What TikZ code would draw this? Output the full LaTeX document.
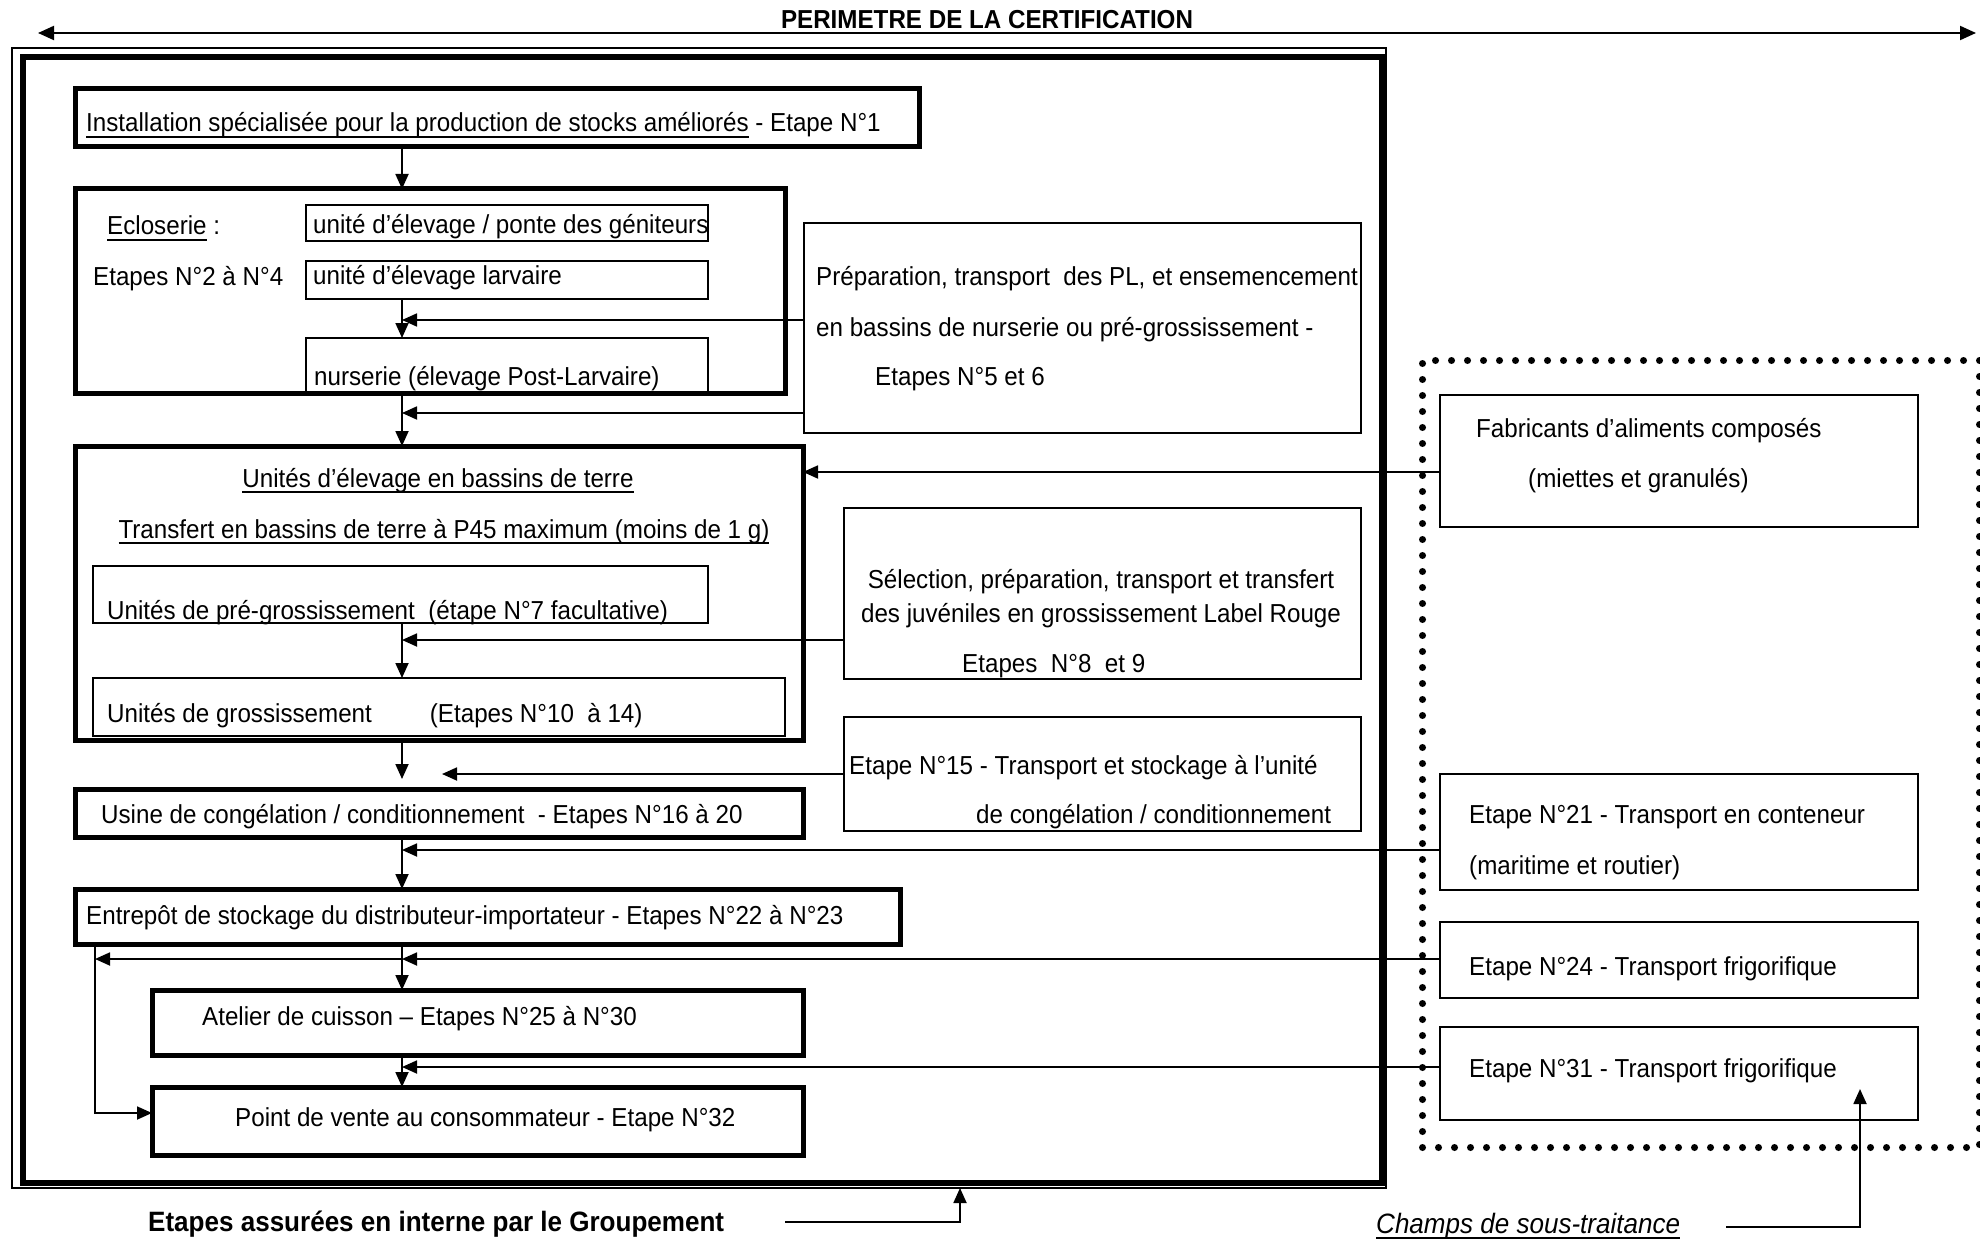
\documentclass[tikz,border=0pt]{standalone}
\usepackage{fontspec}
\setmainfont{Liberation Sans}[FakeStretch=0.93]
\usetikzlibrary{arrows.meta}
\newcommand{\uln}[1]{\setbox0\hbox{#1}\rlap{\rule[-6pt]{\wd0}{2pt}}\box0\relax}

\begin{document}
\begin{tikzpicture}[x=1pt, y=-1pt,
  thickbox/.style={draw, line width=5pt, anchor=north west, inner sep=0pt, outer sep=0pt},
  thinbox/.style={draw, line width=2pt, anchor=north west, inner sep=0pt, outer sep=0pt},
  txt/.style={anchor=base west, inner sep=0pt, font=\fontsize{26}{31}\selectfont},
  arr/.style={line width=1.8pt, -{Triangle[length=15pt, width=13pt]}},
  ln/.style={line width=1.8pt}]
\useasboundingbox (0,0) rectangle (1980,1241);

% perimetre
\coordinate (t1) at (38,33);
\coordinate (t2) at (1976,33);
\draw[line width=2pt, {Triangle[length=16pt, width=14pt]}-{Triangle[length=16pt, width=14pt]}] (t1) -- (t2);
\node[txt, anchor=base, font=\bfseries\fontsize{26}{31}\selectfont] (title) at (987,29) {PERIMETRE DE LA CERTIFICATION};

% cadre du groupement
\node[thinbox, minimum width=1374pt, minimum height=1140pt] (grp) at (12,48) {};
\node[draw, line width=6pt, anchor=north west, inner sep=0pt, minimum width=1359pt, minimum height=1126pt] (grpin) at (20,54) {};

% champs de sous-traitance
\node[draw, line width=7pt, line cap=round, dash pattern=on 0pt off 16pt, anchor=north west, inner sep=0pt, minimum width=557pt, minimum height=787pt] (sst) at (1419,357) {};

% boites internes
\node[thickbox, minimum width=844pt, minimum height=58pt] (inst) at (75,89) {};
\node[thinbox, minimum width=402pt, minimum height=36pt] (ponte) at (306,205) {};
\node[thinbox, minimum width=402pt, minimum height=38pt] (larv) at (306,261) {};
\node[thinbox, minimum width=402pt, minimum height=55pt] (nurs) at (306,338) {};
\node[thickbox, minimum width=710pt, minimum height=204pt] (ecl) at (75,189) {};
\node[thinbox, minimum width=557pt, minimum height=210pt] (prep) at (804,223) {};
\node[thinbox, minimum width=615pt, minimum height=57pt] (pre) at (93,566) {};
\node[thinbox, minimum width=692pt, minimum height=58pt] (gros) at (93,678) {};
\node[thickbox, minimum width=728pt, minimum height=294pt] (unit) at (75,446) {};
\node[thinbox, minimum width=517pt, minimum height=171pt] (sel) at (844,508) {};
\node[thinbox, minimum width=517pt, minimum height=114pt] (e15) at (844,717) {};
\node[thickbox, minimum width=728pt, minimum height=48pt] (usine) at (75,789) {};
\node[thickbox, minimum width=825pt, minimum height=55pt] (entre) at (75,889) {};
\node[thickbox, minimum width=651pt, minimum height=65pt] (atel) at (152,990) {};
\node[thickbox, minimum width=651pt, minimum height=68pt] (point) at (152,1087) {};

% boites sous-traitance
\node[thinbox, minimum width=478pt, minimum height=132pt] (fab) at (1440,395) {};
\node[thinbox, minimum width=478pt, minimum height=116pt] (e21) at (1440,774) {};
\node[thinbox, minimum width=478pt, minimum height=76pt] (e24) at (1440,922) {};
\node[thinbox, minimum width=478pt, minimum height=93pt] (e31) at (1440,1027) {};

% textes
\node[txt] (tinst) at (86,132) {\uln{Installation spécialisée pour la production de stocks améliorés} - Etape N°1};
\node[txt] (teclA) at (107,235) {\uln{Ecloserie} :};
\node[txt] (teclB) at (93,285) {Etapes N°2 à N°4};
\node[txt] (tponte) at (313,234) {unité d’élevage / ponte des géniteurs};
\node[txt] (tlarv) at (313,284) {unité d’élevage larvaire};
\node[txt] (tnurs) at (314,385) {nurserie (élevage Post-Larvaire)};
\node[txt] (tprepA) at (816,285) {Préparation, transport\ \ des PL, et ensemencement};
\node[txt] (tprepB) at (816,336) {en bassins de nurserie ou pré-grossissement -};
\node[txt] (tprepC) at (875,385) {Etapes N°5 et 6};
\node[txt, anchor=base] (tunitA) at (438,487) {\uln{Unités d’élevage en bassins de terre}};
\node[txt, anchor=base] (tunitB) at (444,538) {\uln{Transfert en bassins de terre à P45 maximum (moins de 1 g)}};
\node[txt] (tpre) at (107,619) {Unités de pré-grossissement\ \ (étape N°7 facultative)};
\node[txt] (tgros) at (107,722) {Unités de grossissement\hspace{58pt}(Etapes N°10\ \ à 14)};
\node[txt, anchor=base] (tselA) at (1101,588) {Sélection, préparation, transport et transfert};
\node[txt, anchor=base] (tselB) at (1101,622) {des juvéniles en grossissement Label Rouge};
\node[txt] (tselC) at (962,672) {Etapes\ \ N°8\ \ et 9};
\node[txt] (te15A) at (849,774) {Etape N°15 - Transport et stockage à l’unité};
\node[txt] (te15B) at (976,823) {de congélation / conditionnement};
\node[txt] (tusine) at (101,823) {Usine de congélation / conditionnement\ \ - Etapes N°16 à 20};
\node[txt] (tentre) at (86,924) {Entrepôt de stockage du distributeur-importateur - Etapes N°22 à N°23};
\node[txt] (tatel) at (202,1025) {Atelier de cuisson – Etapes N°25 à N°30};
\node[txt] (tpoint) at (235,1126) {Point de vente au consommateur - Etape N°32};
\node[txt] (tfabA) at (1476,437) {Fabricants d’aliments composés};
\node[txt] (tfabB) at (1528,487) {(miettes et granulés)};
\node[txt] (te21A) at (1469,823) {Etape N°21 - Transport en conteneur};
\node[txt] (te21B) at (1469,874) {(maritime et routier)};
\node[txt] (te24) at (1469,975) {Etape N°24 - Transport frigorifique};
\node[txt] (te31) at (1469,1077) {Etape N°31 - Transport frigorifique};
\node[txt, font=\bfseries\fontsize{28}{34}\selectfont] (tint) at (148,1231) {Etapes assurées en interne par le Groupement};
\node[txt, font=\itshape\fontsize{28}{34}\selectfont] (tsst) at (1376,1233) {\uln{Champs de sous-traitance}};

% points de jonction
\coordinate (j1) at (402,320);
\coordinate (j2) at (402,413);
\coordinate (j3) at (402,640);
\coordinate (j4) at (442,774);
\coordinate (j5) at (402,850);
\coordinate (j6) at (402,959);
\coordinate (j7) at (95,959);
\coordinate (j8) at (402,1067);
\coordinate (j9) at (95,1113);
\coordinate (k1) at (402,779);
\coordinate (b1) at (785,1222);
\coordinate (b2) at (960,1222);
\coordinate (c1) at (1726,1227);
\coordinate (c2) at (1860,1227);
\coordinate (c3) at (1860,1089);

% flux principal
\draw[arr] (inst.south -| j1) -- (ecl.north -| j1);
\draw[arr] (larv.south -| j1) -- (nurs.north -| j1);
\draw[arr] (nurs.south -| j1) -- (unit.north -| j1);
\draw[arr] (pre.south -| j1) -- (gros.north -| j1);
\draw[arr] (unit.south -| j1) -- (k1);
\draw[arr] (usine.south -| j1) -- (entre.north -| j1);
\draw[arr] (entre.south -| j1) -- (atel.north -| j1);
\draw[arr] (atel.south -| j1) -- (point.north -| j1);
\draw[arr] (entre.south -| j7) -- (j9) -- (point.west |- j9);

% apports lateraux
\draw[arr] (prep.west |- j1) -- (j1);
\draw[arr] (prep.west |- j2) -- (j2);
\draw[arr] (fab.west |- 0,472) -- (unit.east |- 0,472);
\draw[arr] (sel.west |- j3) -- (j3);
\draw[arr] (e15.west |- j4) -- (j4);
\draw[arr] (e21.west |- j5) -- (j5);
\draw[arr] (e24.west |- j6) -- (j6);
\draw[arr] (j6) -- (j7);
\draw[arr] (e31.west |- j8) -- (j8);

% legendes
\draw[arr] (b1) -- (b2) -- (b2 |- grp.south);
\draw[arr] (c1) -- (c2) -- (c3);
\end{tikzpicture}
\end{document}
